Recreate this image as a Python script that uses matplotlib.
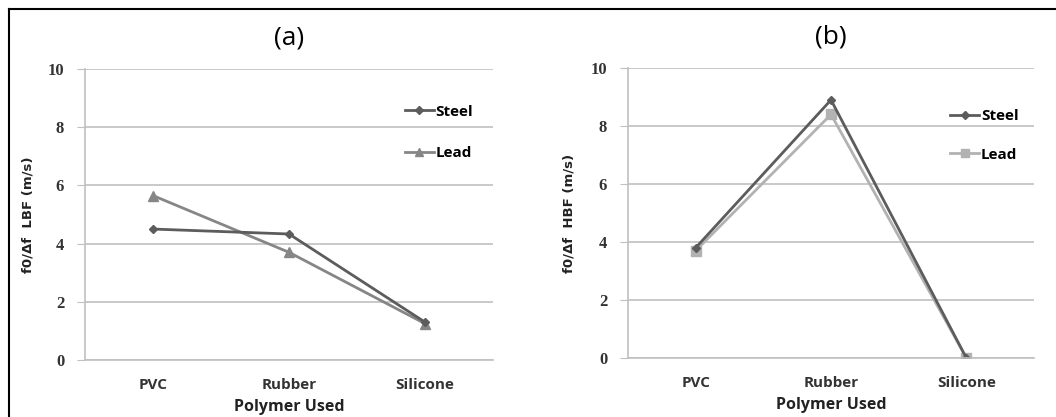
import matplotlib.pyplot as plt
from matplotlib.lines import Line2D

# polymer types on the x axis
polymers = ['PVC', 'Rubber', 'Silicone']

# f0/df at low bending frequency (panel a)
lbf_steel = [4.5, 4.33, 1.3]
lbf_lead = [5.65, 3.7, 1.25]

# f0/df at high bending frequency (panel b)
hbf_steel = [3.8, 8.9, 0.0]
hbf_lead = [3.7, 8.4, 0.0]

steel_col = '#5c5c5c'
lead_a_col = '#868686'
lead_b_col = '#b2b2b2'
grid_col = '#c0c0c0'

fig = plt.figure(figsize=(10.56, 4.17), dpi=100)

ax1 = fig.add_axes([0.0805, 0.1367, 0.3864, 0.6978])
ax2 = fig.add_axes([0.5947, 0.1415, 0.3845, 0.6954])


def style_axes(ax, title, ylab, ylab_x):
    ax.set_xlim(-0.5, 2.5)
    ax.set_ylim(0, 10)
    ax.set_yticks(range(0, 11, 2))
    ax.set_xticks(range(len(polymers)))
    ax.set_xticklabels(polymers, fontfamily='Open Sans', fontweight='bold',
                       fontsize=11, color='#333333')
    for lab in ax.get_yticklabels():
        lab.set_fontfamily('Liberation Serif')
        lab.set_fontweight('bold')
        lab.set_fontsize(12)
        lab.set_color('#333333')
    ax.tick_params(axis='y', length=6, color=grid_col, pad=9)
    ax.tick_params(axis='x', length=0, pad=13)
    ax.grid(axis='y', color=grid_col, linewidth=1.2)
    ax.set_axisbelow(True)
    for s in ['top', 'right']:
        ax.spines[s].set_visible(False)
    for s in ['left', 'bottom']:
        ax.spines[s].set_color(grid_col)
        ax.spines[s].set_linewidth(1.2)
    ax.set_title(title, fontfamily='Open Sans', fontsize=19, pad=18)
    ax.set_xlabel('Polymer Used', fontfamily='Open Sans', fontweight='bold',
                  fontsize=11.5, labelpad=5, color='#222222')
    ax.set_ylabel(ylab, fontfamily='DejaVu Sans', fontweight='bold',
                  fontsize=9.5, color='#222222')
    ax.yaxis.set_label_coords(ylab_x, 0.5)


x = range(len(polymers))
leg_font = {'family': 'Open Sans', 'weight': 'bold', 'size': 11}

# panel (a)
ax1.plot(x, lbf_lead, color=lead_a_col, lw=2, marker='^', ms=7, label='Lead')
ax1.plot(x, lbf_steel, color=steel_col, lw=2, marker='D', ms=4.5, label='Steel')
style_axes(ax1, '(a)', 'f0/\u0394f  LBF (m/s)', -0.125)
h1 = [Line2D([], [], color=steel_col, lw=2, marker='D', ms=4),
      Line2D([], [], color=lead_a_col, lw=2, marker='^', ms=6)]
ax1.legend(h1, ['Steel', 'Lead'], loc='upper left', bbox_to_anchor=(0.75, 0.925),
           frameon=False, handlelength=1.9, handletextpad=0.1, labelspacing=1.8,
           prop=leg_font)

# panel (b)
ax2.plot(x, hbf_lead, color=lead_b_col, lw=2, marker='s', ms=6.5, label='Lead')
ax2.plot(x, hbf_steel, color=steel_col, lw=2, marker='D', ms=4.5, label='Steel')
style_axes(ax2, '(b)', 'f0/\u0394f  HBF (m/s)', -0.13)
h2 = [Line2D([], [], color=steel_col, lw=2, marker='D', ms=4),
      Line2D([], [], color=lead_b_col, lw=2, marker='s', ms=6)]
ax2.legend(h2, ['Steel', 'Lead'], loc='upper left', bbox_to_anchor=(0.76, 0.905),
           frameon=False, handlelength=1.9, handletextpad=0.1, labelspacing=1.6,
           prop=leg_font)

# outer frame: left and top edges only
fig.add_artist(Line2D([0.0085, 0.0085], [0.0, 0.979], color='black', lw=1.5,
                      transform=fig.transFigure))
fig.add_artist(Line2D([0.0085, 1.0], [0.979, 0.979], color='black', lw=1.5,
                      transform=fig.transFigure))

fig.savefig('out.png', dpi=100)
